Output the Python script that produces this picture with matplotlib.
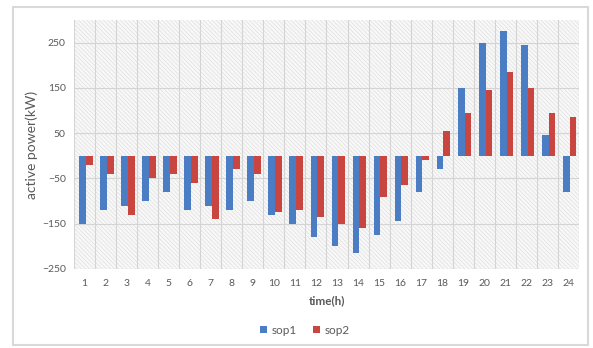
import matplotlib
matplotlib.use("Agg")
import matplotlib.pyplot as plt
import numpy as np
from matplotlib.patches import Rectangle

hours = [str(h) for h in range(1, 25)]
sop1 = [-150, -120, -110, -100, -80, -120, -110, -120, -100, -130, -150, -180,
        -200, -215, -175, -145, -80, -30, 150, 250, 275, 245, 45, -80]
sop2 = [-20, -40, -130, -50, -40, -60, -140, -30, -40, -125, -120, -135,
        -150, -160, -90, -65, -10, 55, 95, 145, 185, 150, 95, 85]
yticks = [-250, -150, -50, 50, 150, 250]

plt.rcParams['font.family'] = ['Lato', 'DejaVu Sans']
plt.rcParams['hatch.linewidth'] = 0.5

W, H = 593, 348
fig = plt.figure(figsize=(W/100, H/100), dpi=100)
fig.patch.set_facecolor('white')
fig.patches.append(Rectangle((13/W, 1-345/H), (588-13)/W, (345-7)/H,
                             transform=fig.transFigure, fill=False,
                             edgecolor='#d9d9d9', linewidth=1.5))

ax = fig.add_axes([74/W, 1-269/H, (579-74)/W, (269-20)/H])
ax.patch.set_facecolor('#f8f8f8')
ax.add_patch(Rectangle((0, 0), 1, 1, transform=ax.transAxes, fill=False,
                       hatch='\\\\\\\\\\\\\\\\', edgecolor='#e0e0e0',
                       linewidth=0, zorder=0))

x = np.arange(len(hours))
w = 0.32
ax.bar(x - w/2 + 0.06, sop1, width=w, color='#4A7DC4', label='sop1', zorder=3)
ax.bar(x + w/2 + 0.06, sop2, width=w, color='#C8463F', label='sop2', zorder=3)

ax.set_xlim(-0.5, len(hours) - 0.5)
ax.set_ylim(-250, 300)
ax.set_yticks(yticks)
ax.set_xticks(x)
ax.set_xticklabels(hours)
ax.set_xticks(np.arange(-0.5, len(hours), 1), minor=True)
ax.grid(axis='y', which='major', color='#d4d4d4', linewidth=0.8, zorder=1)
ax.grid(axis='x', which='minor', color='#d4d4d4', linewidth=0.8, zorder=1)
ax.set_axisbelow(True)
ax.tick_params(axis='both', which='both', length=0, labelsize=7.5, colors='#595959')
ax.tick_params(axis='y', pad=6)
ax.tick_params(axis='x', pad=7)
for s in ax.spines.values():
    s.set_visible(False)

ax.set_xlabel('time(h)', fontsize=8.5, fontweight='bold', color='#595959')
ax.xaxis.set_label_coords(0.5, -(295-269)/249)
ax.set_ylabel('active power(kW)', fontsize=10, color='#595959')
ax.yaxis.set_label_coords((38-74)/505, 0.5)

handles, labels = ax.get_legend_handles_labels()
fig.legend(handles, labels, loc='center', bbox_to_anchor=(305/W, 1-330/H),
           ncol=2, frameon=False, fontsize=8.5, labelcolor='#595959',
           handlelength=0.6, handleheight=0.6, handletextpad=0.4, columnspacing=1.4)

fig.savefig('out.png', dpi=100)
